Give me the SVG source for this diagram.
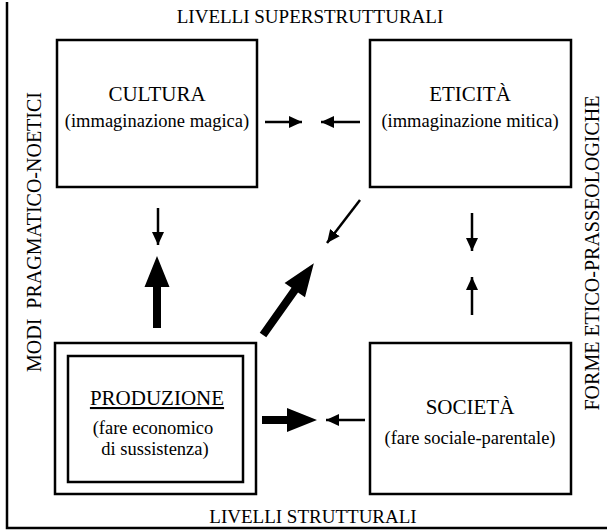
<svg xmlns="http://www.w3.org/2000/svg" width="607" height="531" viewBox="0 0 607 531">
  <style>
    text { font-family: "Liberation Serif", "Times New Roman", serif; fill: #000; }
    .lvl { font-size: 19px; }
    .side { font-size: 20px; }
    .ttl { font-size: 21px; }
    .sub { font-size: 18.5px; }
    .box { fill: #fff; stroke: #000; stroke-width: 2.5; }
    .frame { fill: none; stroke: #000; stroke-width: 2.5; }
    .thin { stroke: #000; stroke-width: 2.5; fill: none; marker-end: url(#head); }
    .big { fill: #000; stroke: none; }
  </style>
  <defs>
    <marker id="head" markerUnits="userSpaceOnUse" markerWidth="14" markerHeight="12" refX="13" refY="6" orient="auto">
      <path d="M0,0 L13,6 L0,12 Z" fill="#000"/>
    </marker>
  </defs>

  <rect width="607" height="531" fill="#fff"/>

  <!-- outer frame: left edge and base line -->
  <path class="frame" d="M7,2 V528 H607"/>

  <!-- level labels -->
  <text class="lvl" x="310" y="23" text-anchor="middle">LIVELLI SUPERSTRUTTURALI</text>
  <text class="lvl" x="313" y="523" text-anchor="middle">LIVELLI STRUTTURALI</text>
  <text class="side" transform="translate(41,232) rotate(-90)" text-anchor="middle" xml:space="preserve">MODI  PRAGMATICO-NOETICI</text>
  <text class="side" transform="translate(599,253) rotate(-90)" text-anchor="middle">FORME ETICO-PRASSEOLOGICHE</text>

  <g id="cultura">
    <rect class="box" x="57" y="40" width="200" height="147"/>
    <text class="ttl" x="157" y="101" text-anchor="middle">CULTURA</text>
    <text class="sub" x="157" y="127" text-anchor="middle">(immaginazione magica)</text>
  </g>

  <g id="eticita">
    <rect class="box" x="370" y="40" width="201" height="147"/>
    <text class="ttl" x="470" y="101" text-anchor="middle">ETICITÀ</text>
    <text class="sub" x="470" y="127" text-anchor="middle">(immaginazione mitica)</text>
  </g>

  <g id="produzione">
    <rect class="box" x="55" y="343" width="201" height="151"/>
    <rect class="box" x="68" y="356" width="175" height="126"/>
    <text class="ttl" x="157" y="405" text-anchor="middle" text-decoration="underline">PRODUZIONE</text>
    <text class="sub" x="153" y="434" text-anchor="middle">(fare economico</text>
    <text class="sub" x="155" y="455" text-anchor="middle">di sussistenza)</text>
  </g>

  <g id="societa">
    <rect class="box" x="370" y="343" width="201" height="151"/>
    <text class="ttl" x="470" y="414" text-anchor="middle">SOCIETÀ</text>
    <text class="sub" x="470" y="444" text-anchor="middle">(fare sociale-parentale)</text>
  </g>

  <g id="connectors">
    <!-- thin arrows -->
    <line class="thin" x1="265" y1="122" x2="302" y2="122"/>
    <line class="thin" x1="360" y1="122" x2="321" y2="122"/>
    <line class="thin" x1="158" y1="208" x2="158" y2="245"/>
    <line class="thin" x1="360" y1="200" x2="327" y2="243"/>
    <line class="thin" x1="472" y1="213" x2="472" y2="251"/>
    <line class="thin" x1="472" y1="315" x2="472" y2="277"/>
    <line class="thin" x1="365" y1="420" x2="326" y2="420"/>
    <!-- heavy arrows -->
    <polygon class="big" points="157,256 169.5,287 161,287 161,328 153,328 153,287 144.5,287"/>
    <polygon class="big" transform="translate(263,335) rotate(-54.7)" points="0,-4 55,-4 55,-12.5 88,0 55,12.5 55,4 0,4"/>
    <polygon class="big" points="262,416 287,416 287,408 317,420 287,432 287,424 262,424"/>
  </g>
</svg>
